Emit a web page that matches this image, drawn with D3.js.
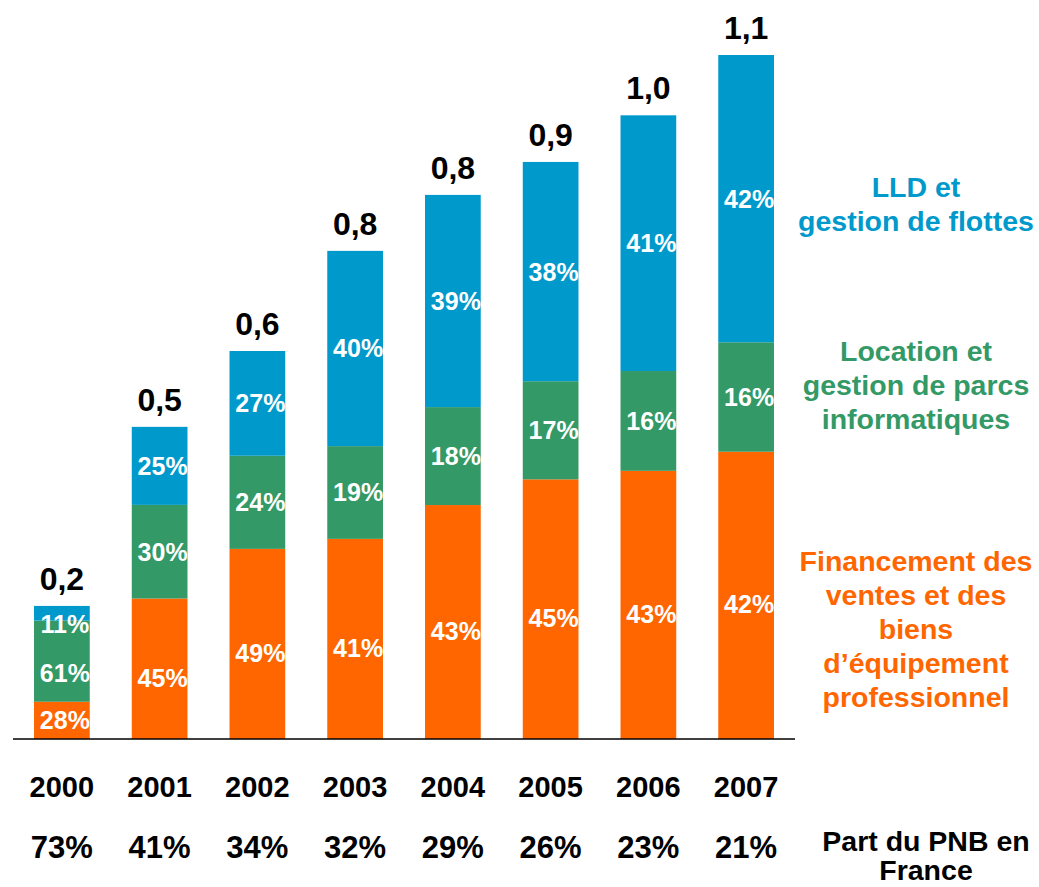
<!DOCTYPE html>
<html>
<head>
<meta charset="utf-8">
<script src="https://cdn.jsdelivr.net/npm/d3@7"></script>
<style>
  body { margin: 0; background: #fff; }
  text { font-family: "Liberation Sans", Arial, sans-serif; font-weight: bold; }
</style>
</head>
<body>
<div id="chart"></div>
<script>
const width = 1039, height = 887;

// data
const years = ["2000", "2001", "2002", "2003", "2004", "2005", "2006", "2007"];
const totals = [0.214, 0.502, 0.624, 0.785, 0.875, 0.928, 1.003, 1.10];
const totalLabels = ["0,2", "0,5", "0,6", "0,8", "0,8", "0,9", "1,0", "1,1"];
const financementShare = [28, 45, 49, 41, 43, 45, 43, 42];
const locationShare = [61, 30, 24, 19, 18, 17, 16, 16];
const lldShare = [11, 25, 27, 40, 39, 38, 41, 42];
const pnbShare = ["73%", "41%", "34%", "32%", "29%", "26%", "23%", "21%"];

const seriesNames = ["financement", "parcs", "lld"];
const colors = {financement: "#FF6600", parcs: "#339966", lld: "#0099CC"};

const legend = [
  {key: "lld", lines: ["LLD et", "gestion de flottes"], y: 197},
  {key: "parcs", lines: ["Location et", "gestion de parcs", "informatiques"], y: 361},
  {key: "financement", lines: ["Financement des", "ventes et des", "biens", "d\u2019équipement", "professionnel"], y: 571}
];

const table = years.map((y, i) => ({
  year: y, total: totals[i], label: totalLabels[i],
  financement: financementShare[i], parcs: locationShare[i], lld: lldShare[i]
}));

const x = d3.scaleBand()
  .domain(years)
  .range([13, 795])
  .paddingInner(0.43)
  .paddingOuter(0.215);

const y = d3.scaleLinear()
  .domain([0, 1.1])
  .range([739, 55]);

const svg = d3.select("#chart").append("svg")
  .attr("width", width)
  .attr("height", height);

// stacked segments
const stack = d3.stack().keys(seriesNames)
  .value((d, k) => d.total * d[k] / 100);
const stacked = stack(table);

const layers = svg.selectAll("g.layer")
  .data(stacked)
  .enter().append("g")
  .attr("class", "layer")
  .attr("fill", d => colors[d.key]);

layers.selectAll("rect")
  .data(d => d)
  .enter().append("rect")
  .attr("x", d => x(d.data.year))
  .attr("y", d => y(d[1]))
  .attr("width", x.bandwidth())
  .attr("height", d => y(d[0]) - y(d[1]));

// percent labels in segments
layers.selectAll("text")
  .data(d => d.map(s => ({s: s, key: d.key})))
  .enter().append("text")
  .attr("x", d => x(d.s.data.year) + x.bandwidth() / 2 + 3)
  .attr("y", d => {
    const top = y(d.s[1]), bot = y(d.s[0]);
    if (bot - top < 30) return top + 27;
    if (d.key === "parcs" && d.s.data.year === "2000") return (top + bot) / 2 + 21;
    if (d.key === "financement" && bot - top > 60) return (top + bot) / 2 + 18;
    return (top + bot) / 2 + 9;
  })
  .attr("text-anchor", "middle")
  .attr("fill", "#fff")
  .style("font-size", "25px")
  .text(d => d.s.data[d.key] + "%");

// baseline
svg.append("line")
  .attr("x1", 13).attr("x2", 795)
  .attr("y1", y(0)).attr("y2", y(0))
  .attr("stroke", "#000")
  .attr("stroke-width", 1.5);

// totals
svg.selectAll("text.total")
  .data(table)
  .enter().append("text")
  .attr("class", "total")
  .attr("x", d => x(d.year) + x.bandwidth() / 2)
  .attr("y", d => y(d.total) - 16)
  .attr("text-anchor", "middle")
  .style("font-size", "32px")
  .text(d => d.label);

// years
svg.selectAll("text.year")
  .data(years)
  .enter().append("text")
  .attr("class", "year")
  .attr("x", d => x(d) + x.bandwidth() / 2)
  .attr("y", 797)
  .attr("text-anchor", "middle")
  .style("font-size", "29px")
  .text(d => d);

// part du PNB
svg.selectAll("text.pnb")
  .data(pnbShare)
  .enter().append("text")
  .attr("class", "pnb")
  .attr("x", (d, i) => x(years[i]) + x.bandwidth() / 2)
  .attr("y", 858)
  .attr("text-anchor", "middle")
  .style("font-size", "31px")
  .text(d => d);

const pnbTitle = svg.append("text")
  .attr("x", 926)
  .attr("y", 851)
  .attr("text-anchor", "middle")
  .style("font-size", "28.5px");
pnbTitle.append("tspan").attr("x", 926).text("Part du PNB en");
pnbTitle.append("tspan").attr("x", 926).attr("dy", 29).text("France");

// legend labels
legend.forEach(l => {
  const t = svg.append("text")
    .attr("x", 916)
    .attr("y", l.y)
    .attr("text-anchor", "middle")
    .attr("fill", colors[l.key])
    .style("font-size", "28.5px");
  l.lines.forEach((line, i) => {
    t.append("tspan")
      .attr("x", 916)
      .attr("dy", i === 0 ? 0 : 34)
      .text(line);
  });
});
</script>
</body>
</html>
